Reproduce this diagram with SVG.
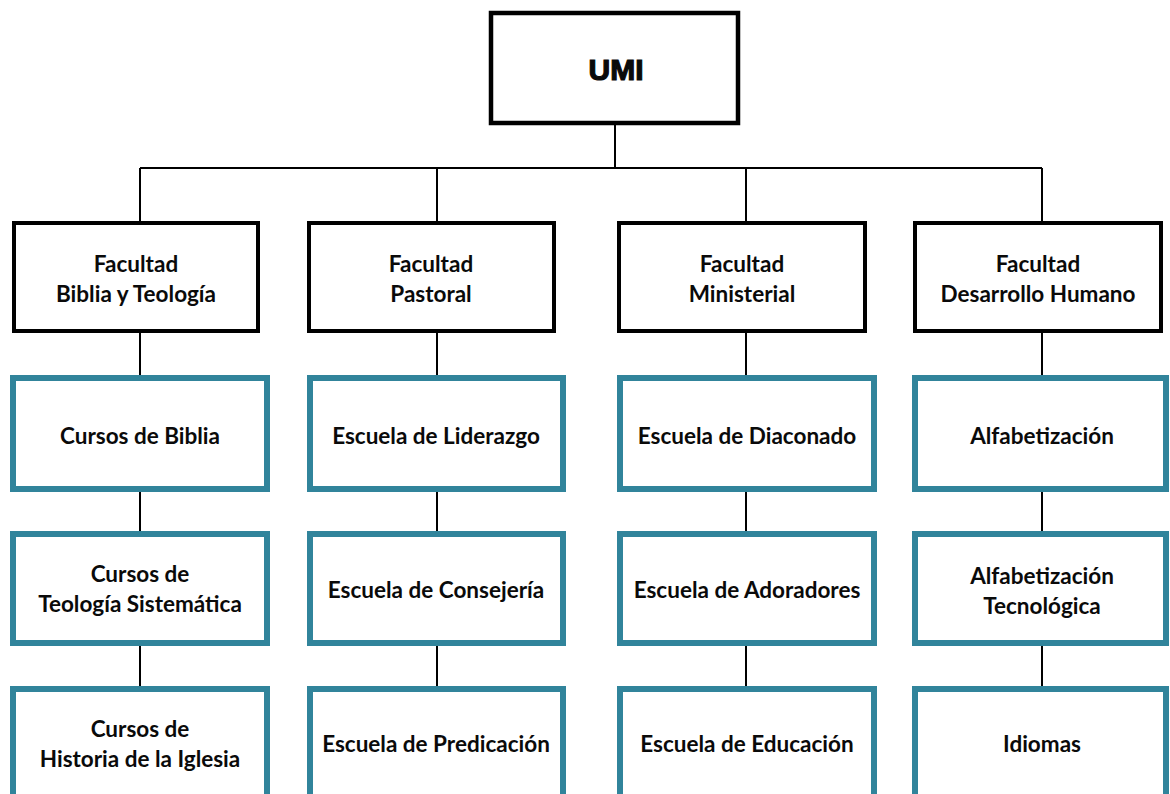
<svg xmlns="http://www.w3.org/2000/svg" width="1170" height="794" viewBox="0 0 1170 794">
<style>
.bg{fill:#ffffff}
.top{fill:#ffffff;stroke:#000000;stroke-width:4.5}
.fac{fill:#ffffff;stroke:#000000;stroke-width:4}
.sch{fill:#ffffff;stroke:#31849b;stroke-width:6}
.con{stroke:#000000;stroke-width:2;fill:none}
text{font-family:Lato,"Open Sans","Liberation Sans",sans-serif;font-weight:bold;font-size:22.5px;fill:#0a0a0a;text-anchor:middle}
.umi{font-family:"Liberation Sans",Arial,sans-serif;font-weight:900;font-size:30px;stroke:#0a0a0a;stroke-width:1.2}
</style>
<rect class="bg" x="0" y="0" width="1170" height="794"/>
<g id="connectors">
<path class="con" d="M615 125V168M140 168H1042M140 168V223M437 168V223M746 168V223M1042 168V223"/>
<path class="con" d="M140 333V378M140 489V534M140 643V689"/>
<path class="con" d="M437 333V378M437 489V534M437 643V689"/>
<path class="con" d="M746 333V378M746 489V534M746 643V689"/>
<path class="con" d="M1042 333V378M1042 489V534M1042 643V689"/>
</g>
<g id="umi"><rect class="top" x="491" y="13" width="247" height="110"/><text class="umi" x="616" y="80">UMI</text></g>
<g id="fac1"><rect class="fac" x="14" y="223" width="244" height="108"/><text x="136" y="272">Facultad</text><text x="136" y="302">Biblia y Teología</text></g>
<g id="fac2"><rect class="fac" x="309" y="223" width="245" height="108"/><text x="431" y="272">Facultad</text><text x="431" y="302">Pastoral</text></g>
<g id="fac3"><rect class="fac" x="619" y="223" width="246" height="108"/><text x="742" y="272">Facultad</text><text x="742" y="302">Ministerial</text></g>
<g id="fac4"><rect class="fac" x="915" y="223" width="246" height="108"/><text x="1038" y="272">Facultad</text><text x="1038" y="302">Desarrollo Humano</text></g>
<g id="s11"><rect class="sch" x="13" y="378" width="254" height="111"/><text x="140" y="444">Cursos de Biblia</text></g>
<g id="s12"><rect class="sch" x="13" y="534" width="254" height="109"/><text x="140" y="582">Cursos de</text><text x="140" y="612">Teología Sistemática</text></g>
<g id="s13"><rect class="sch" x="13" y="689" width="254" height="110"/><text x="140" y="737">Cursos de</text><text x="140" y="767">Historia de la Iglesia</text></g>
<g id="s21"><rect class="sch" x="310" y="378" width="253" height="111"/><text x="436" y="444">Escuela de Liderazgo</text></g>
<g id="s22"><rect class="sch" x="310" y="534" width="253" height="109"/><text x="436" y="598">Escuela de Consejería</text></g>
<g id="s23"><rect class="sch" x="310" y="689" width="253" height="110"/><text x="436" y="752">Escuela de Predicación</text></g>
<g id="s31"><rect class="sch" x="620" y="378" width="254" height="111"/><text x="747" y="444">Escuela de Diaconado</text></g>
<g id="s32"><rect class="sch" x="620" y="534" width="254" height="109"/><text x="747" y="598">Escuela de Adoradores</text></g>
<g id="s33"><rect class="sch" x="620" y="689" width="254" height="110"/><text x="747" y="752">Escuela de Educación</text></g>
<g id="s41"><rect class="sch" x="915" y="378" width="251" height="111"/><text x="1042" y="444">Alfabetización</text></g>
<g id="s42"><rect class="sch" x="915" y="534" width="251" height="109"/><text x="1042" y="584">Alfabetización</text><text x="1042" y="614">Tecnológica</text></g>
<g id="s43"><rect class="sch" x="915" y="689" width="251" height="110"/><text x="1042" y="752">Idiomas</text></g>
</svg>
